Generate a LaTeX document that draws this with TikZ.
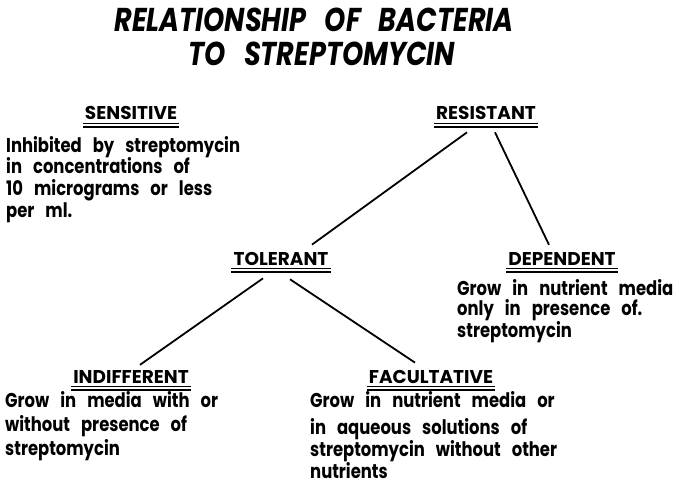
\documentclass[tikz,border=0pt]{standalone}
\usepackage{fontspec}
\setmainfont{Poppins}
\usetikzlibrary{positioning, calc}
\newfontfamily\narrowfont{Poppins}[FakeStretch=0.82]
\newcommand{\headfont}{\bfseries\fontsize{18.5}{20}\selectfont}
\newcommand{\bodyfont}[1]{\narrowfont\bfseries\fontsize{20}{#1}\selectfont\spaceskip=0.55em}
\newcommand{\titlefont}{\narrowfont\bfseries\itshape\fontsize{33}{38}\selectfont\spaceskip=0.55em}
% double rule under a heading
\newcommand{\dblrule}[1]{%
  \draw[rulethin] ([xshift=-2pt,yshift=-3pt]#1.south west) -- ([xshift=2pt,yshift=-3pt]#1.south east);
  \draw[rulethick] ([xshift=-2pt,yshift=-7pt]#1.south west) -- ([xshift=2pt,yshift=-7pt]#1.south east);
}

\begin{document}
\begin{tikzpicture}[x=1pt, y=-1pt,
    heading/.style={font=\headfont, inner sep=0pt, anchor=base},
    body/.style={inner sep=0pt, align=left, anchor=north west},
    title/.style={font=\titlefont, inner sep=0pt, anchor=base},
    rulethin/.style={line width=1.3pt},
    rulethick/.style={line width=1.9pt},
    link/.style={line width=1.8pt},
  ]
  \useasboundingbox[fill=white] (0,0) rectangle (681,487);

  \node[title] (title1) at (314,32) {RELATIONSHIP OF BACTERIA};
  \node[title] (title2) at (322,66) {TO STREPTOMYCIN};

  % headings
  \node[heading] (sens) at (131,120) {SENSITIVE};
  \node[heading] (res)  at (486,120) {RESISTANT};
  \node[heading] (tol)  at (281,265) {TOLERANT};
  \node[heading] (dep)  at (562,265) {DEPENDENT};
  \node[heading] (ind)  at (131,383) {INDIFFERENT};
  \node[heading] (fac)  at (431,383) {FACULTATIVE};

  \dblrule{sens}
  \dblrule{res}
  \dblrule{tol}
  \dblrule{dep}
  \dblrule{ind}
  \dblrule{fac}

  % descriptions
  \node[body, font=\bodyfont{21.7}] (senstext) at (6,136)
    {Inhibited by streptomycin\\in concentrations of\\10 micrograms or less\\per ml.};
  \node[body, font=\bodyfont{20}] (deptext) at (457,279)
    {Grow in nutrient media\\only in presence of.\\streptomycin};
  \node[body, font=\bodyfont{24}] (indtext) at (5,391)
    {Grow in media with or\\without presence of\\streptomycin};
  \node[body, font=\bodyfont{22}] (factext) at (310,391)
    {Grow in nutrient media or\\[5pt]in aqueous solutions of\\streptomycin without other\\nutrients};

  % branches
  \draw[link] ([xshift=-19pt,yshift=-12pt]res.south) -- ([xshift=31pt,yshift=7pt]tol.north);
  \draw[link] ([xshift=9pt,yshift=-12pt]res.south) -- ([xshift=-13pt,yshift=7pt]dep.north);
  \draw[link] ([xshift=-18pt,yshift=-13pt]tol.south) -- ([xshift=9pt,yshift=5pt]ind.north);
  \draw[link] ([xshift=9pt,yshift=-14pt]tol.south) -- ([xshift=-16pt,yshift=7pt]fac.north);
\end{tikzpicture}
\end{document}
